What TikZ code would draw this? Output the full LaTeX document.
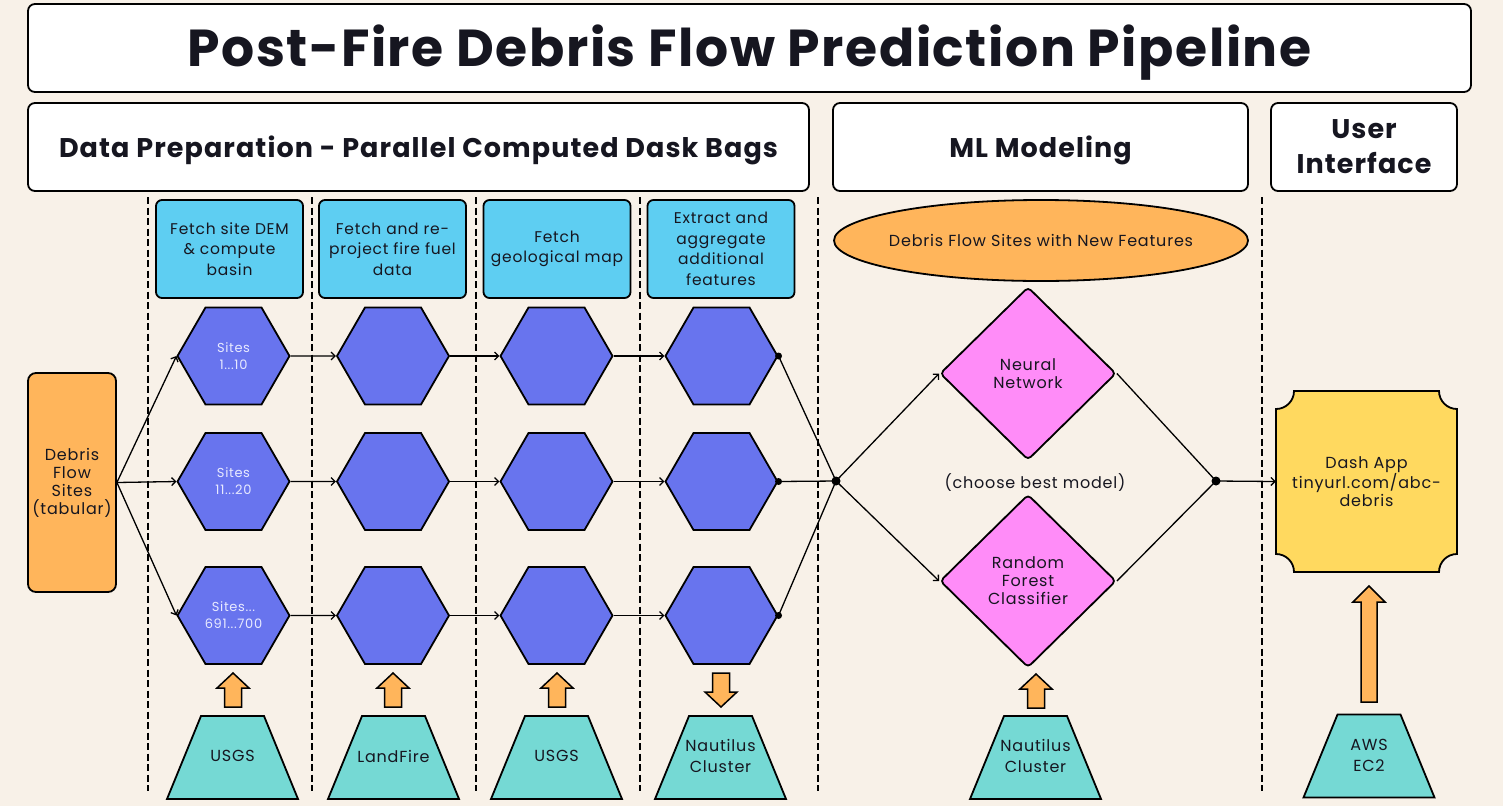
\documentclass[tikz,border=0pt]{standalone}
\usepackage{fontspec}
\setmainfont{Poppins}
\usetikzlibrary{shapes.geometric,arrows.meta}

\definecolor{bgcream}{RGB}{248,241,232}
\definecolor{taskblue}{RGB}{94,206,242}
\definecolor{hexblue}{RGB}{104,116,238}
\definecolor{siteorange}{RGB}{255,181,91}
\definecolor{modelpink}{RGB}{255,140,248}
\definecolor{srcteal}{RGB}{117,217,212}
\definecolor{appyellow}{RGB}{255,217,95}
\definecolor{inkdark}{RGB}{22,22,32}
\definecolor{hextext}{RGB}{232,234,255}

\begin{document}
\begin{tikzpicture}[x=1pt,y=1pt,yscale=-1,xscale=1,
  every node/.style={inner sep=0pt, text=inkdark},
  txt/.style={font=\fontsize{16}{18}\selectfont\addfontfeature{LetterSpace=5}, align=center},
  bigbox/.style={draw, line width=1.8, fill=white, rounded corners=7, align=center, font=\fontsize{27}{35}\selectfont\bfseries\addfontfeature{LetterSpace=4}},
  taskbox/.style={draw, line width=1.8, fill=taskblue, rounded corners=6, minimum width=147, minimum height=98, align=center, font=\fontsize{15.5}{20.5}\selectfont\addfontfeature{LetterSpace=5}},
  hexnode/.style={draw, line width=1.8, fill=hexblue, regular polygon, regular polygon sides=6, minimum size=112, text=hextext, align=center, font=\fontsize{13}{17}\selectfont\addfontfeature{LetterSpace=5}},
  pinkdiamond/.style={txt, draw, line width=1.8, fill=modelpink, diamond, rounded corners=4, minimum width=176, minimum height=173},
  srctext/.style={align=center, font=\fontsize{16}{21}\selectfont\addfontfeature{LetterSpace=5}},
  flowline/.style={line width=1.3, -{Straight Barb[length=4,width=8]}},
  plainline/.style={line width=1.3},
  sepline/.style={line width=1.6, dash pattern=on 7pt off 3.5pt},
  trap/.pic={\draw[line width=1.8, fill=srcteal] (-65.5,-41.5) -- (-31.5,41.5) -- (31.5,41.5) -- (65.5,-41.5) -- cycle;},
  uparrow/.pic={\draw[line width=1.5, fill=siteorange] (-8.5,-17) -- (-8.5,2) -- (-16,2) -- (0,17) -- (16,2) -- (8.5,2) -- (8.5,-17) -- cycle;}
]
\fill[bgcream] (0,0) rectangle (1503,806);
\useasboundingbox (0,0) rectangle (1503,806);

% Header Boxes
\draw[line width=1.8, fill=white, rounded corners=7] (28,4) rectangle (1471,92);
\node[font=\fontsize{52}{60}\selectfont\bfseries\addfontfeature{LetterSpace=3}, anchor=base] (title) at (749.5,66) {Post-Fire Debris Flow Prediction Pipeline};
\node[bigbox, minimum width=781, minimum height=88] (prep) at (418.5,147) {};
\node[font=\fontsize{27}{35}\selectfont\bfseries\addfontfeature{LetterSpace=4}, anchor=base] (preptext) at (418.5,157) {Data Preparation - Parallel Computed Dask Bags};
\node[bigbox, minimum width=415, minimum height=88] (mlhead) at (1040.5,147) {};
\node[font=\fontsize{27}{35}\selectfont\bfseries\addfontfeature{LetterSpace=4}, anchor=base] (mltext) at (1040.5,157) {ML Modeling};
\node[bigbox, minimum width=186, minimum height=88] (uihead) at (1364,147) {User\\Interface};

% Dashed Lines
\draw[sepline] (148,197) -- (148,791);
\draw[sepline] (312,197) -- (312,791);
\draw[sepline] (476,197) -- (476,791);
\draw[sepline] (640,197) -- (640,791);
\draw[sepline] (818,197) -- (818,791);
\draw[sepline] (1262,197) -- (1262,791);

% Task Boxes
\node[taskbox] (taskA) at (229.5,249) {Fetch site DEM\\\& compute\\basin};
\node[taskbox] (taskB) at (392.5,249) {Fetch and re-\\project fire fuel\\data};
\node[taskbox] (taskC) at (557,249) {Fetch\\geological map};
\node[taskbox] (taskD) at (721,249) {Extract and\\aggregate\\additional\\features};

% Input Table
\node[txt, draw, line width=1.8, fill=siteorange, rounded corners=8, minimum width=88, minimum height=219] (sites) at (72,482.5) {Debris\\Flow\\Sites\\(tabular)};

% Hexagons
\node[hexnode] (h11) at (233.5,356) {Sites\\1...10};
\node[hexnode] (h12) at (233.5,481.5) {Sites\\11...20};
\node[hexnode] (h13) at (233.5,615.5) {Sites...\\691...700};
\node[hexnode] (h21) at (393,356) {};
\node[hexnode] (h22) at (393,481.5) {};
\node[hexnode] (h23) at (393,615.5) {};
\node[hexnode] (h31) at (556.5,356) {};
\node[hexnode] (h32) at (556.5,481.5) {};
\node[hexnode] (h33) at (556.5,615.5) {};
\node[hexnode] (h41) at (721.5,356) {};
\node[hexnode] (h42) at (721.5,481.5) {};
\node[hexnode] (h43) at (721.5,615.5) {};

% ML Modeling
\node[txt, draw, line width=1.8, fill=siteorange, ellipse, inner xsep=-12pt, minimum width=414, minimum height=81] (newfeat) at (1041,240.5) {Debris Flow Sites with New Features};
\node[pinkdiamond] (nn) at (1028,373.5) {Neural\\Network};
\node[pinkdiamond] (rf) at (1028,581) {Random\\Forest\\Classifier};
\node[txt] (choose) at (1035,483) {(choose best model)};

% Dash App
\draw[line width=1.8, fill=appyellow] (1294,391) -- (1439,391) arc[start angle=180, end angle=90, radius=18] -- (1457,554) arc[start angle=270, end angle=180, radius=18] -- (1294,572) arc[start angle=360, end angle=270, radius=18] -- (1276,409) arc[start angle=90, end angle=0, radius=18] -- cycle;
\node[txt, minimum width=181, minimum height=181] (dash) at (1366.5,481.5) {Dash App\\tinyurl.com/abc-\\debris};

% Straight Lines
\draw[flowline] (sites.east) -- (h11.west);
\draw[flowline] (sites.east) -- (h12.west);
\draw[flowline] (sites.east) -- (h13.west);
\draw[flowline] (h11.east) -- (h21.west);
\draw[flowline] (h12.east) -- (h22.west);
\draw[flowline] (h13.east) -- (h23.west);
\draw[flowline] (h21.east) -- (h31.west);
\draw[flowline] (h22.east) -- (h32.west);
\draw[flowline] (h23.east) -- (h33.west);
\draw[flowline] (h31.east) -- (h41.west);
\draw[flowline] (h32.east) -- (h42.west);
\draw[flowline] (h33.east) -- (h43.west);
\coordinate (mergeA) at (836,481);
\draw[plainline] (h41.east) -- (mergeA);
\draw[plainline] (h42.east) -- (mergeA);
\draw[plainline] (h43.east) -- (mergeA);
\fill (h41.east) circle (3.5);
\fill (h42.east) circle (3.5);
\fill (h43.east) circle (3.5);
\fill (mergeA) circle (4.5);
\draw[flowline] (mergeA) -- (nn.west);
\draw[flowline] (mergeA) -- (rf.west);
\coordinate (mergeB) at (1216,481);
\draw[plainline] (nn.east) -- (mergeB);
\draw[plainline] (rf.east) -- (mergeB);
\fill (mergeB) circle (4.5);
\draw[flowline] (mergeB) -- (dash.west);

% Block Arrows
\pic at (233,690) {uparrow};
\pic at (393,690) {uparrow};
\pic at (557,690) {uparrow};
\pic[rotate=180] at (721,690) {uparrow};
\pic at (1036,691) {uparrow};
\draw[line width=1.5, fill=siteorange] (1361,702) -- (1361,602) -- (1353,602) -- (1369,586) -- (1385,602) -- (1377,602) -- (1377,702) -- cycle;

% Data Sources
\pic at (232.5,757.5) {trap};
\node[srctext] (usgsA) at (232.5,756) {USGS};
\pic at (393.5,757.5) {trap};
\node[srctext] (landfire) at (393.5,756) {LandFire};
\pic at (556.5,757.5) {trap};
\node[srctext] (usgsB) at (556.5,756) {USGS};
\pic at (720.5,757.5) {trap};
\node[srctext] (nautA) at (720.5,756) {Nautilus\\Cluster};
\pic at (1035.5,757.5) {trap};
\node[srctext] (nautB) at (1035.5,756) {Nautilus\\Cluster};
\pic at (1369,756) {trap};
\node[srctext] (aws) at (1369,755.5) {AWS\\EC2};

\end{tikzpicture}
\end{document}
